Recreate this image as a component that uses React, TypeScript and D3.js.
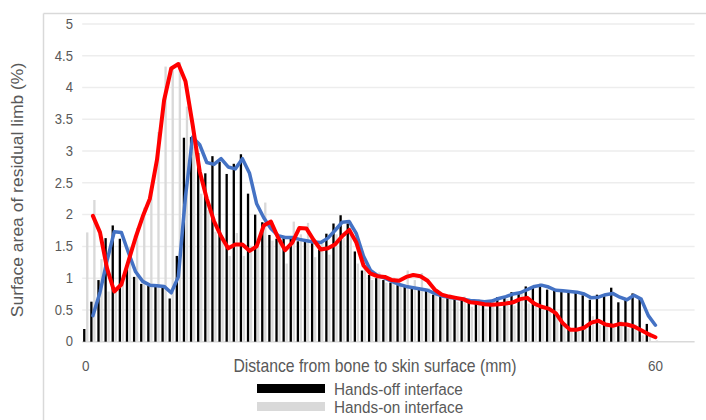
import * as d3 from "d3";

// distance bins (mm), 0.75 mm apart; the axis keeps a few empty bins at the end
const distances = d3.range(0, 64.5, 0.75);
const xTickValues = [0, 60];
const yTickValues = [0, 0.5, 1, 1.5, 2, 2.5, 3, 3.5, 4, 4.5, 5];

// bars: % of residual limb surface in each distance bin
const handsOff = [
  0.2, 0.63, 0.97, 1.63, 1.83, 1.62, 1.2, 1.02, 0.91, 0.88, 0.87, 0.87, 0.68, 1.35, 3.21, 3.22,
  2.97, 2.65, 2.92, 2.83, 2.64, 2.8, 2.95, 2.33, 2.0, 1.88, 1.68, 1.62, 1.64, 1.62, 1.58, 1.58,
  1.55, 1.45, 1.7, 1.86, 1.99, 1.86, 1.42, 1.12, 1.05, 1.0, 0.97, 0.93, 0.89, 0.86, 0.84, 0.82,
  0.8, 0.74, 0.71, 0.7, 0.67, 0.67, 0.64, 0.64, 0.62, 0.65, 0.7, 0.71, 0.78, 0.76, 0.87, 0.86,
  0.91, 0.82, 0.8, 0.8, 0.79, 0.77, 0.73, 0.66, 0.74, 0.74, 0.85, 0.62, 0.68, 0.76, 0.7, 0.28, 0,
];
const handsOn = [
  1.72, 2.23, 1.3, 0.79, 0.79, 1.05, 1.49, 1.79, 2.11, 2.35, 3.3, 4.33, 4.3, 4.4, 3.7, 3.07,
  2.33, 2.07, 1.73, 1.61, 1.35, 1.71, 1.35, 1.51, 1.49, 2.19, 1.59, 1.67, 1.23, 1.89, 1.69, 1.87,
  1.33, 1.57, 1.37, 1.69, 1.63, 1.89, 1.23, 1.17, 0.97, 1.09, 0.93, 1.01, 0.91, 1.12, 0.97, 1.08,
  0.84, 0.8, 0.68, 0.74, 0.63, 0.71, 0.55, 0.67, 0.52, 0.65, 0.53, 0.67, 0.57, 0.77, 0.6, 0.61,
  0.5, 0.55, 0.38, 0.25, 0.16, 0.22, 0.2, 0.4, 0.26, 0.27, 0.23, 0.33, 0.21, 0.27, 0.1, 0.15, 0.02,
];

// trend lines (2-bin moving average); first bin has none
const handsOffTrend = [
  null, 0.41, 0.78, 1.28, 1.73, 1.72, 1.4, 1.1, 0.95, 0.89, 0.88, 0.87, 0.77, 1.02, 2.28, 3.22,
  3.1, 2.82, 2.79, 2.88, 2.75, 2.72, 2.88, 2.65, 2.17, 1.95, 1.78, 1.67, 1.64, 1.64, 1.61, 1.59,
  1.57, 1.56, 1.63, 1.75, 1.88, 1.89, 1.7, 1.35, 1.12, 1.04, 1.0, 0.95, 0.9, 0.87, 0.85, 0.83,
  0.81, 0.76, 0.72, 0.7, 0.68, 0.67, 0.65, 0.64, 0.63, 0.64, 0.68, 0.71, 0.75, 0.77, 0.82, 0.87,
  0.89, 0.86, 0.81, 0.8, 0.79, 0.78, 0.75, 0.69, 0.7, 0.74, 0.76, 0.7, 0.66, 0.73, 0.67, 0.41, 0.26,
];
const handsOnTrend = [
  null, 1.98, 1.72, 1.15, 0.79, 0.9, 1.27, 1.64, 1.97, 2.25, 2.86, 3.8, 4.3, 4.37, 4.1, 3.42,
  2.68, 2.25, 1.9, 1.66, 1.47, 1.53, 1.53, 1.43, 1.5, 1.83, 1.89, 1.64, 1.44, 1.56, 1.79, 1.78,
  1.6, 1.45, 1.47, 1.53, 1.66, 1.76, 1.56, 1.2, 1.07, 1.03, 1.02, 0.97, 0.96, 1.02, 1.05, 1.03,
  0.96, 0.82, 0.74, 0.71, 0.69, 0.67, 0.62, 0.61, 0.59, 0.58, 0.59, 0.6, 0.62, 0.67, 0.69, 0.6,
  0.55, 0.52, 0.45, 0.29, 0.19, 0.19, 0.22, 0.3, 0.33, 0.27, 0.25, 0.28, 0.27, 0.24, 0.18, 0.12, 0.07,
];

const seriesNames = ["Hands-off interface", "Hands-on interface"];

const W = 706;
const H = 420;
const FONT = "'Liberation Sans', Arial, sans-serif";
const TEXT = "#595959";
const SQUASH = 0.9; // the source picture is a bit narrow horizontally

type Pt = { d: number; v: number };

function Label(props: {
  x: number;
  y: number;
  size: number;
  anchor?: "start" | "middle" | "end";
  rotate?: number;
  children: string;
}) {
  const { x, y, size, anchor = "start", rotate = 0, children } = props;
  const t = rotate
    ? `translate(${x},${y}) rotate(${rotate}) scale(1,${SQUASH})`
    : `translate(${x},${y}) scale(${SQUASH},1)`;
  return (
    <text
      transform={t}
      fontFamily={FONT}
      fontSize={size}
      fill={TEXT}
      textAnchor={anchor}
      dominantBaseline="central"
    >
      {children}
    </text>
  );
}

export default function App() {
  const x = d3.scaleBand<number>().domain(distances).range([82.2, 694.6]);
  const sub = d3
    .scaleBand<string>()
    .domain(["off", "on"])
    .range([0, x.bandwidth()])
    .paddingInner(0.23)
    .paddingOuter(0.3);
  const y = d3.scaleLinear().domain([0, 5]).range([341.7, 24]);
  const cx = (d: number) => (x(d) ?? 0) + x.bandwidth() / 2;

  const line = d3
    .line<Pt>()
    .x((p) => cx(p.d))
    .y((p) => y(p.v));

  const toPts = (arr: (number | null)[]) =>
    arr
      .map((v, i) => ({ d: distances[i], v }))
      .filter((p): p is Pt => p.v !== null);

  const [x0, x1] = x.range();

  return (
    <svg
      width={W}
      height={H}
      style={{ position: "absolute", left: 0, top: 0, background: "#fff" }}
    >
      {/* outer frame */}
      <line x1={43.5} y1={13.5} x2={W} y2={13.5} stroke="#d9d9d9" strokeWidth={1.5} />
      <line x1={43.5} y1={13.5} x2={43.5} y2={H} stroke="#d9d9d9" strokeWidth={1.5} />

      {/* gridlines + y ticks */}
      {yTickValues.map((t) => (
        <g key={t}>
          <line
            x1={x0}
            x2={x1}
            y1={y(t)}
            y2={y(t)}
            stroke={t === 0 ? "#d9d9d9" : "#ededed"}
            strokeWidth={1.5}
          />
          <Label x={73} y={y(t)} size={14.5} anchor="end">
            {String(t)}
          </Label>
        </g>
      ))}

      {/* bars */}
      {handsOff.map((v, i) => (
        <rect
          key={"off" + i}
          x={(x(distances[i]) ?? 0) + (sub("off") ?? 0)}
          y={y(v)}
          width={sub.bandwidth()}
          height={y(0) - y(v)}
          fill="#000"
        />
      ))}
      {handsOn.map((v, i) => (
        <rect
          key={"on" + i}
          x={(x(distances[i]) ?? 0) + (sub("on") ?? 0)}
          y={y(v)}
          width={sub.bandwidth()}
          height={y(0) - y(v)}
          fill="#d9d9d9"
        />
      ))}

      {/* trend lines */}
      <path
        d={line(toPts(handsOffTrend)) ?? ""}
        fill="none"
        stroke="#4472c4"
        strokeWidth={3.5}
        strokeLinejoin="round"
        strokeLinecap="round"
      />
      <path
        d={line(toPts(handsOnTrend)) ?? ""}
        fill="none"
        stroke="#ff0000"
        strokeWidth={4}
        strokeLinejoin="round"
        strokeLinecap="round"
      />

      {/* x ticks */}
      {xTickValues.map((t) => (
        <Label key={t} x={cx(t)} y={366} size={15} anchor="middle">
          {String(t)}
        </Label>
      ))}
      <Label x={375} y={366} size={17.5} anchor="middle">
        Distance from bone to skin surface (mm)
      </Label>
      <Label x={18} y={190} size={17.5} anchor="middle" rotate={-90}>
        Surface area of residual limb (%)
      </Label>

      {/* legend */}
      {seriesNames.map((name, i) => (
        <g key={name}>
          <rect
            x={257}
            y={384 + i * 18}
            width={68}
            height={9}
            fill={i === 0 ? "#000" : "#d9d9d9"}
          />
          <Label x={334} y={389 + i * 18} size={17}>
            {name}
          </Label>
        </g>
      ))}
    </svg>
  );
}
